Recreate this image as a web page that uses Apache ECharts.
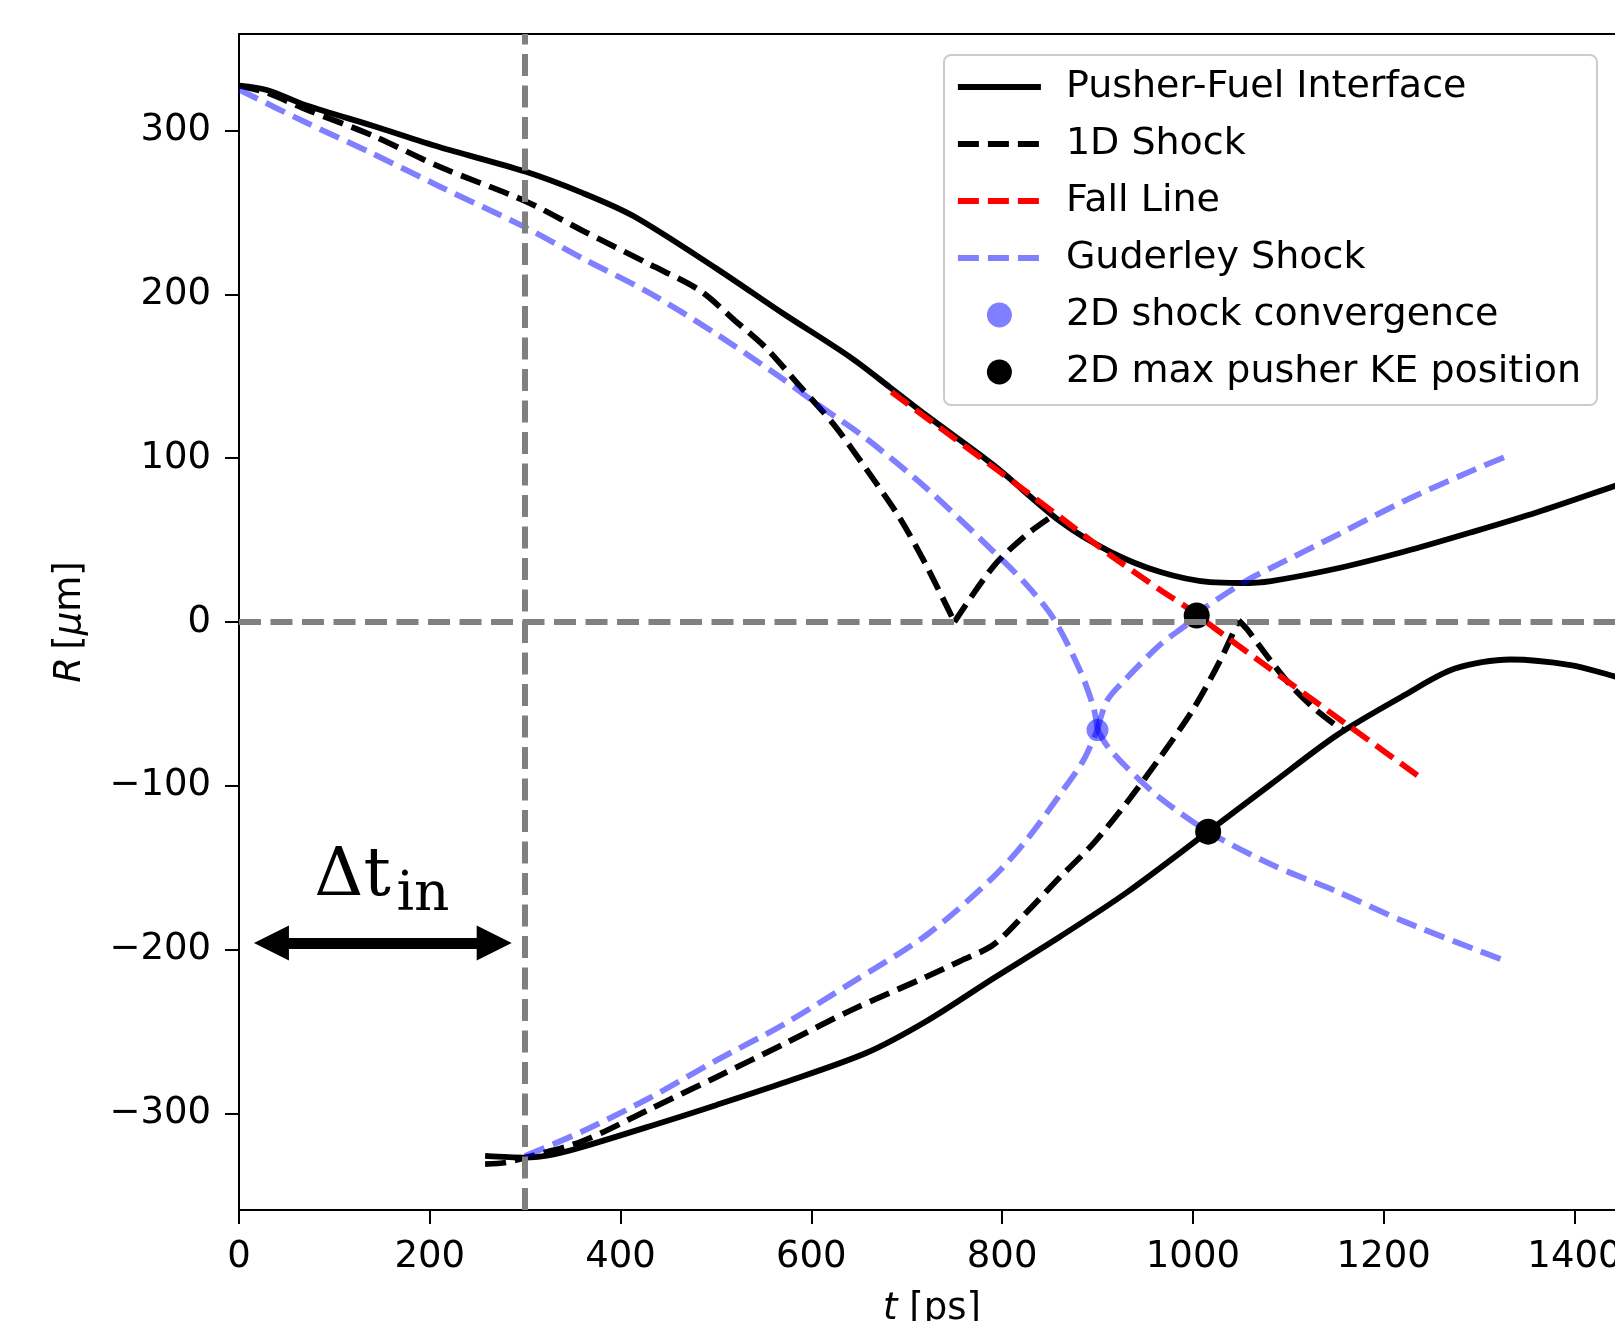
<!DOCTYPE html>
<html>
<head>
<meta charset="utf-8">
<script src="https://cdn.jsdelivr.net/npm/echarts@6/dist/echarts.min.js"></script>
<style>
html, body { margin: 0; padding: 0; background: #fff; }
#chart { width: 1615px; height: 1321px; }
</style>
</head>
<body>
<div id="chart"></div>
<script>
const chart = echarts.init(document.getElementById('chart'));

// tick positions
const tTicks = [0, 200, 400, 600, 800, 1000, 1200, 1400];
const rTicks = [-300, -200, -100, 0, 100, 200, 300];

// pusher-fuel interface, upper and lower branch (t in ps, R in um)
const pusherTopT = [0, 30, 70, 140, 210, 300, 360, 413, 500, 570, 640, 682, 721, 791, 861, 913, 966, 1018, 1050, 1082, 1152, 1222, 1291, 1361, 1442, 1452];
const pusherTopR = [327.5, 324.7, 315.5, 303, 290, 275, 262, 248, 216, 188.5, 162, 143.5, 126, 95.8, 61.4, 43, 30.5, 24.3, 23.8, 25, 32.8, 43, 54.6, 67, 83, 85];
const pusherBotT = [258, 300, 330, 360, 430, 500, 570, 658, 721, 791, 861, 931, 1016, 1082, 1152, 1222, 1274, 1333, 1396, 1442, 1452];
const pusherBotR = [-326, -327, -325, -320.5, -308, -295, -281.5, -263, -243.6, -217.5, -192, -165, -128, -99, -68.7, -44.6, -28.6, -22.9, -26.3, -33.2, -35];

// 1D shock: incoming and reflected pieces, top and bottom
const shockTopInT = [0, 30, 70, 140, 210, 300, 360, 430, 483, 518, 553, 588, 623, 658, 692.5, 721, 750];
const shockTopInR = [327.5, 323, 313, 297, 278, 257, 239, 218.5, 202.5, 185, 167, 144, 121, 93, 63.7, 34, 0];
const shockTopOutT = [750, 791, 826, 856];
const shockTopOutR = [0, 34, 53.5, 66];
const shockBotInT = [258, 280, 300, 360, 430, 500, 570, 640, 721, 756, 791, 826, 861, 896, 931, 966, 1001, 1029, 1048];
const shockBotInR = [-331, -330, -327, -317, -297.6, -278, -258, -237.5, -216.5, -207, -197, -177, -155.6, -135, -110, -82.4, -52.6, -23, 1];
const shockBotOutT = [1048, 1057, 1082, 1103, 1127, 1152, 1158];
const shockBotOutR = [1, -4.6, -24, -39, -52.6, -64, -66];

// fall line
const fallT = [684, 721, 791, 861, 913, 966, 997, 1022, 1082, 1166, 1241];
const fallR = [140.5, 124.5, 94.5, 64, 41, 19.5, 7.6, -3.4, -29, -64.5, -96];

// Guderley shock: incoming branches meet at the convergence point, then diverge
const gudTopInT = [0, 70, 140, 210, 300, 360, 430, 500, 570, 605, 658, 721, 791, 826, 854, 882, 896, 900];
const gudTopInR = [325, 305, 286, 266, 241, 222, 201, 176, 148.4, 133.5, 111.8, 81.5, 43, 22.5, 2, -30, -52.6, -65.7];
const gudBotInT = [300, 360, 430, 500, 570, 640, 721, 791, 826, 861, 885, 900];
const gudBotInR = [-326, -311, -290.7, -267.8, -246, -221, -191, -155.6, -132.8, -105, -84.7, -65.7];
const gudDownT = [900, 910, 931, 966, 1016, 1082, 1152, 1222, 1328];
const gudDownR = [-65.7, -75.5, -89, -107.6, -128, -148, -164.8, -183, -207];
const gudUpT = [900, 910, 931, 966, 997, 1011, 1057, 1082, 1152, 1222, 1291, 1328];
const gudUpR = [-65.7, -48, -34, -13.7, 0, 8, 25.5, 33, 53.4, 74, 92, 101];

// markers
const convT = [900];
const convR = [-66];
const keT = [1004, 1016];
const keR = [4, -128];

// reference lines and the delta-t annotation
const tIn = 300;
const rZero = 0;
const arrowT = [34, 267.5];
const arrowR = -196;

const zip = (a, b) => a.map((v, i) => [v, b[i]]);

const LW = 5.8;
const DASH = [21, 9];
const FONT = 'DejaVu Sans';
const BLUE = 'rgba(0,0,255,0.5)';

function curve(name, t, r, color, dashed, smooth) {
  return {
    name: name,
    type: 'line',
    data: zip(t, r),
    symbol: 'none',
    smooth: smooth,
    silent: true,
    z: 3,
    itemStyle: { color: color },
    lineStyle: { color: color, width: LW, type: dashed ? DASH : 'solid', join: 'round' }
  };
}

function legendLine(name, color, dashed) {
  return {
    name: name,
    itemStyle: { opacity: 0 },
    lineStyle: { color: color, width: LW, type: dashed ? DASH : 'solid', opacity: 1 }
  };
}

const option = {
  animation: false,
  backgroundColor: '#fff',
  grid: {
    left: 239, top: 34, width: 1386, height: 1176,
    outerBoundsMode: 'none', containLabel: false,
    show: true, borderColor: '#000', borderWidth: 2, backgroundColor: 'transparent'
  },
  xAxis: {
    type: 'value', min: 0, max: 1453,
    name: '{i|t} [ps]', nameLocation: 'middle', nameGap: 81,
    nameTextStyle: { fontFamily: FONT, fontSize: 37, color: '#000',
      rich: { i: { fontFamily: FONT, fontSize: 37, fontStyle: 'italic', color: '#000' } } },
    axisLine: { onZero: false, lineStyle: { color: '#000', width: 2 } },
    axisTick: { length: 14, lineStyle: { color: '#000', width: 2 }, customValues: tTicks },
    axisLabel: { fontFamily: FONT, fontSize: 37, color: '#000', margin: 29, customValues: tTicks,
      formatter: v => String(v) },
    splitLine: { show: false }
  },
  yAxis: {
    type: 'value', min: -359, max: 359,
    name: '{i|R}\u2009[{i|μ}m]', nameLocation: 'middle', nameGap: 150,
    nameTextStyle: { fontFamily: FONT, fontSize: 37, color: '#000',
      rich: { i: { fontFamily: FONT, fontSize: 37, fontStyle: 'italic', color: '#000' } } },
    axisLine: { onZero: false, lineStyle: { color: '#000', width: 2 } },
    axisTick: { length: 14, lineStyle: { color: '#000', width: 2 }, customValues: rTicks },
    axisLabel: {
      fontFamily: FONT, fontSize: 37, color: '#000', margin: 28, customValues: rTicks,
      formatter: v => (v < 0 ? '\u2212' + Math.abs(v) : String(v))
    },
    splitLine: { show: false }
  },
  legend: {
    data: [
      legendLine('Pusher-Fuel Interface', '#000', false),
      legendLine('1D Shock', '#000', true),
      legendLine('Fall Line', '#ff0000', true),
      legendLine('Guderley Shock', BLUE, true),
      { name: '2D shock convergence' },
      { name: '2D max pusher KE position' }
    ],
    orient: 'vertical',
    left: 944, top: 55,
    itemWidth: 83, itemHeight: 25, itemGap: 17,
    padding: [12, 16, 13, 11],
    borderColor: '#cccccc', borderWidth: 2, borderRadius: 7,
    backgroundColor: 'rgba(255,255,255,0.8)',
    selectedMode: false,
    textStyle: { fontFamily: FONT, fontSize: 38, color: '#000', lineHeight: 40, padding: [0, 0, 0, 20] }
  },
  series: [
    {
      type: 'line', data: [], silent: true, z: 1,
      markLine: {
        silent: true, symbol: 'none', label: { show: false },
        lineStyle: { color: '#808080', width: 6, type: [22, 9.5] },
        data: [{ xAxis: tIn }, { yAxis: rZero }]
      }
    },
    curve('Pusher-Fuel Interface', pusherTopT, pusherTopR, '#000', false, 0.3),
    curve('Pusher-Fuel Interface', pusherBotT, pusherBotR, '#000', false, 0.3),
    curve('1D Shock', shockTopInT, shockTopInR, '#000', true, 0.3),
    curve('1D Shock', shockTopOutT, shockTopOutR, '#000', true, 0.3),
    curve('1D Shock', shockBotInT, shockBotInR, '#000', true, 0.3),
    curve('1D Shock', shockBotOutT, shockBotOutR, '#000', true, 0.3),
    curve('Fall Line', fallT, fallR, '#ff0000', true, 0.2),
    curve('Guderley Shock', gudTopInT, gudTopInR, BLUE, true, 0.3),
    curve('Guderley Shock', gudBotInT, gudBotInR, BLUE, true, 0.3),
    curve('Guderley Shock', gudDownT, gudDownR, BLUE, true, 0.3),
    curve('Guderley Shock', gudUpT, gudUpR, BLUE, true, 0.3),
    {
      name: '2D shock convergence', type: 'scatter', data: zip(convT, convR),
      symbol: 'circle', symbolSize: 22, itemStyle: { color: BLUE, opacity: 1 }, z: 4, silent: true
    },
    {
      name: '2D max pusher KE position', type: 'scatter', data: zip(keT, keR),
      symbol: 'circle', symbolSize: 26, itemStyle: { color: '#000', opacity: 1 }, z: 4, silent: true
    },
    {
      type: 'line', data: [], silent: true, z: 5,
      markLine: {
        silent: true, symbol: ['triangle', 'triangle'], symbolSize: [35, 35],
        label: { show: false },
        lineStyle: { color: '#000', width: 11, type: 'solid' },
        itemStyle: { color: '#000' },
        data: [[{ coord: [arrowT[0], arrowR] }, { coord: [arrowT[1], arrowR] }]]
      }
    }
  ]
};

chart.setOption(option);

// Δt_in label, anchored on baselines given in data coordinates
const mainAt = chart.convertToPixel({ gridIndex: 0 }, [79, -168.3]);
const subAt = chart.convertToPixel({ gridIndex: 0 }, [165, -177.4]);
chart.setOption({
  graphic: [
    {
      type: 'text', x: mainAt[0], y: mainAt[1] - 0.3 * 68, z: 10, silent: true,
      style: { text: 'Δt', font: '68px "DejaVu Serif"', fill: '#000', verticalAlign: 'middle', align: 'left' }
    },
    {
      type: 'text', x: subAt[0], y: subAt[1] - 0.3 * 55, z: 10, silent: true,
      style: { text: 'in', font: '55px "DejaVu Serif"', fill: '#000', verticalAlign: 'middle', align: 'left' }
    }
  ]
});
</script>
</body>
</html>
